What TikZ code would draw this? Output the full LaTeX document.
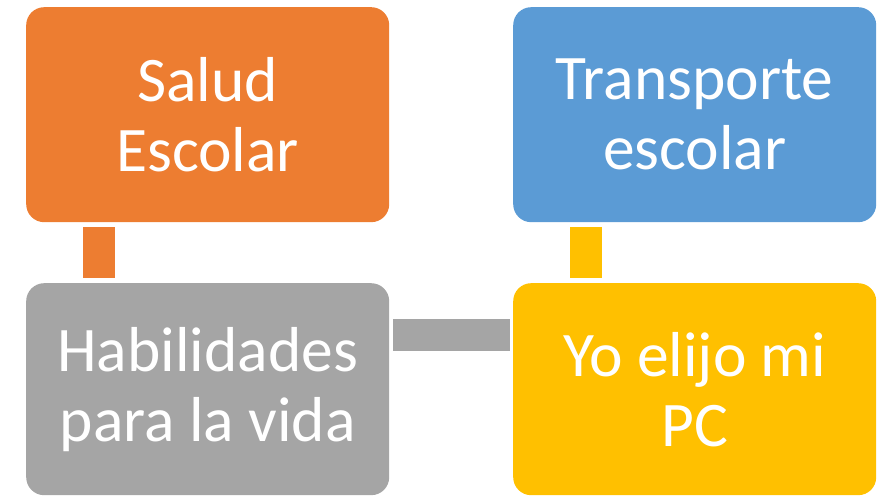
\documentclass[tikz,border=0pt]{standalone}
\usepackage{fontspec}
\setmainfont{Carlito}
\usetikzlibrary{calc}
\definecolor{corange}{HTML}{ED7D31}
\definecolor{cblue}{HTML}{5B9BD5}
\definecolor{cgray}{HTML}{A5A5A5}
\definecolor{cyellow}{HTML}{FFC000}
\tikzset{
  box/.style={rounded corners=18pt, minimum width=363pt, minimum height=215pt, inner sep=0pt,
    text=white, align=center, font=\fontsize{63.5}{70}\selectfont, anchor=north west},
  link/.style={line width=32pt}
}
\begin{document}
\begin{tikzpicture}[x=1pt,y=1pt]
\useasboundingbox (0,0) rectangle (882,495);
\node[box, fill=corange] (a) at (26,488) {Salud\\Escolar};
\node[box, fill=cblue] (b) at (513,488) {Transporte\\escolar};
\node[box, fill=cgray, minimum height=212pt] (c) at (26,212) {Habilidades\\para la vida};
\node[box, fill=cyellow, minimum height=212pt] (d) at (513,212) {Yo elijo mi\\PC};
\draw[link, corange] ($(a.south west)+(73,-5)$) -- ($(c.north west)+(73,5)$);
\draw[link, cyellow] ($(b.south west)+(73,-5)$) -- ($(d.north west)+(73,5)$);
\draw[link, cgray] ($(c.north east)+(4,-52)$) -- ($(d.north west)+(-3,-52)$);
\end{tikzpicture}
\end{document}
